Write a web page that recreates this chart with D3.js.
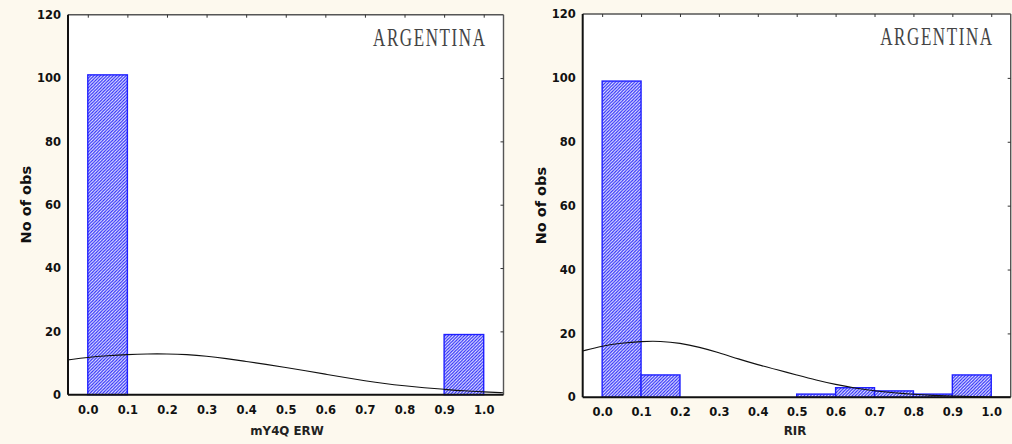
<!DOCTYPE html>
<html>
<head>
<meta charset="utf-8">
<script src="https://cdn.jsdelivr.net/npm/d3@7"></script>
<style>
  html, body { margin: 0; padding: 0; background: #fdf9ee; }
  svg { display: block; }
</style>
</head>
<body>
<svg id="chart" width="1012" height="444"></svg>
<script>
// Histogram bins (lower edges, width 0.1)
const binStarts = [0.0, 0.1, 0.2, 0.3, 0.4, 0.5, 0.6, 0.7, 0.8, 0.9];
const binWidth = 0.1;

// Observation counts per bin
const countsERW = [101, 0, 0, 0, 0, 0, 0, 0, 0, 19];
const countsRIR = [99, 7, 0, 0, 0, 1, 3, 2, 1, 7];

// Expected normal curve, sampled positions and heights
const curveX = [-0.05, 0, 0.05, 0.1, 0.15, 0.2, 0.25, 0.3, 0.35, 0.4, 0.45, 0.5,
                0.55, 0.6, 0.65, 0.7, 0.75, 0.8, 0.85, 0.9, 0.95, 1.0, 1.05];
const curveERW = [11.0, 11.8, 12.3, 12.7, 12.9, 12.9, 12.7, 12.2, 11.4, 10.5, 9.6, 8.6,
                  7.6, 6.5, 5.4, 4.4, 3.5, 2.8, 2.2, 1.7, 1.2, 0.9, 0.6];
const curveRIR = [14.5, 16.1, 17.0, 17.5, 17.6, 17.0, 15.7, 14.0, 12.0, 10.2, 8.6, 7.0,
                  5.4, 4.0, 2.9, 2.0, 1.4, 0.9, 0.6, 0.4, 0.2, 0.1, 0.05];

// Axis ticks
const xTicks = [0.0, 0.1, 0.2, 0.3, 0.4, 0.5, 0.6, 0.7, 0.8, 0.9, 1.0];
const yTicks = [0, 20, 40, 60, 80, 100, 120];

const countryLabel = "ARGENTINA";
const yTitle = "No of obs";

const svg = d3.select("#chart");

// diagonal hatching for the bars
const defs = svg.append("defs");
const pat = defs.append("pattern")
  .attr("id", "hatch")
  .attr("patternUnits", "userSpaceOnUse")
  .attr("width", 3.2).attr("height", 3.2);
pat.append("rect").attr("width", 3.2).attr("height", 3.2).attr("fill", "#eeeeff");
pat.append("path")
  .attr("d", "M-0.8,0.8 L0.8,-0.8 M0,3.2 L3.2,0 M2.4,4 L4,2.4")
  .attr("stroke", "#2626f8").attr("stroke-width", 1.15);

const tickFont = "DejaVu Sans, Verdana, sans-serif";

function panel(cfg) {
  const x = d3.scaleLinear().domain([-0.05, 1.05]).range([cfg.left, cfg.right]);
  const y = d3.scaleLinear().domain([0, 120]).range([cfg.bottom, cfg.top]);
  const g = svg.append("g");

  // plot area
  g.append("rect")
    .attr("x", cfg.left).attr("y", cfg.top)
    .attr("width", cfg.right - cfg.left).attr("height", cfg.bottom - cfg.top)
    .attr("fill", "#ffffff");

  const clipId = "clip" + cfg.id;
  defs.append("clipPath").attr("id", clipId)
    .append("rect")
    .attr("x", cfg.left).attr("y", cfg.top)
    .attr("width", cfg.right - cfg.left).attr("height", cfg.bottom - cfg.top);

  // bars
  const bins = binStarts.map((b, i) => ({ x0: b, x1: b + binWidth, n: cfg.counts[i] }))
    .filter(d => d.n > 0);
  g.append("g").selectAll("rect").data(bins).join("rect")
    .attr("x", d => x(d.x0))
    .attr("y", d => y(d.n))
    .attr("width", d => x(d.x1) - x(d.x0))
    .attr("height", d => y(0) - y(d.n))
    .attr("fill", "url(#hatch)")
    .attr("stroke", "#1f1fff")
    .attr("stroke-width", 1.4);

  // expected normal curve
  const line = d3.line()
    .x((d, i) => x(curveX[i]))
    .y(d => y(d))
    .curve(d3.curveBasis);
  g.append("path")
    .datum(cfg.curve)
    .attr("clip-path", `url(#${clipId})`)
    .attr("d", line)
    .attr("fill", "none")
    .attr("stroke", "#111")
    .attr("stroke-width", 1.1);

  // frame: top and right lighter, with inward ticks
  g.append("line")
    .attr("x1", cfg.left).attr("x2", cfg.right)
    .attr("y1", cfg.top).attr("y2", cfg.top)
    .attr("stroke", "#555").attr("stroke-width", 1.4);
  g.append("line")
    .attr("x1", cfg.right).attr("x2", cfg.right)
    .attr("y1", cfg.top).attr("y2", cfg.bottom)
    .attr("stroke", "#555").attr("stroke-width", 1.4);

  const topAxis = d3.axisTop(x).tickValues(xTicks).tickSize(-3).tickFormat("");
  g.append("g").attr("transform", `translate(0,${cfg.top})`).call(topAxis)
    .call(s => s.select(".domain").remove())
    .call(s => s.selectAll("line").attr("stroke", "#333").attr("stroke-width", 1));

  const rightAxis = d3.axisRight(y).tickValues(yTicks.slice(1, -1)).tickSize(-3).tickFormat("");
  g.append("g").attr("transform", `translate(${cfg.right},0)`).call(rightAxis)
    .call(s => s.select(".domain").remove())
    .call(s => s.selectAll("line").attr("stroke", "#333").attr("stroke-width", 1));

  // bottom and left axes
  const bottomAxis = d3.axisBottom(x).tickValues(xTicks).tickSize(0).tickPadding(11)
    .tickFormat(d3.format(".1f"));
  g.append("g").attr("transform", `translate(0,${cfg.bottom})`).call(bottomAxis)
    .call(s => s.select(".domain").remove())
    .call(s => s.selectAll("text")
      .attr("font-family", tickFont)
      .attr("font-weight", "bold").attr("font-size", 11.5).attr("fill", "#111"));

  const leftAxis = d3.axisLeft(y).tickValues(yTicks).tickSize(0).tickPadding(7);
  g.append("g").attr("transform", `translate(${cfg.left},0)`).call(leftAxis)
    .call(s => s.select(".domain").remove())
    .call(s => s.selectAll("text")
      .attr("font-family", tickFont)
      .attr("font-weight", "bold").attr("font-size", 11.5).attr("fill", "#111"));

  g.append("line")
    .attr("x1", cfg.left).attr("x2", cfg.right)
    .attr("y1", cfg.bottom).attr("y2", cfg.bottom)
    .attr("stroke", "#111").attr("stroke-width", 2);
  g.append("line")
    .attr("x1", cfg.left).attr("x2", cfg.left)
    .attr("y1", cfg.top).attr("y2", cfg.bottom)
    .attr("stroke", "#111").attr("stroke-width", 2);

  // country label
  g.append("text")
    .attr("transform", `translate(${cfg.right - 17},${cfg.top + 31}) scale(1,1.5)`)
    .attr("text-anchor", "end")
    .attr("font-family", "Liberation Serif, Times New Roman, serif")
    .attr("font-size", 17)
    .attr("letter-spacing", 1.6)
    .attr("fill", "#444")
    .text(countryLabel);

  // axis titles
  g.append("text")
    .attr("transform", `translate(${cfg.left - 37},${(cfg.top + cfg.bottom) / 2}) rotate(-90)`)
    .attr("text-anchor", "middle")
    .attr("font-family", tickFont)
    .attr("font-weight", "bold").attr("font-size", 14.5)
    .attr("fill", "#111")
    .text(yTitle);

  g.append("text")
    .attr("x", cfg.xTitleX).attr("y", 435)
    .attr("text-anchor", "middle")
    .attr("font-family", tickFont)
    .attr("font-weight", "bold").attr("font-size", 11.8)
    .attr("fill", "#222")
    .text(cfg.xTitle);
}

panel({ id: "erw", left: 68, right: 503.5, top: 14.7, bottom: 394.7,
        counts: countsERW, curve: curveERW, xTitle: "mY4Q ERW", xTitleX: 287 });
panel({ id: "rir", left: 582.7, right: 1010.7, top: 14, bottom: 397.3,
        counts: countsRIR, curve: curveRIR, xTitle: "RIR", xTitleX: 795 });
</script>
</body>
</html>
